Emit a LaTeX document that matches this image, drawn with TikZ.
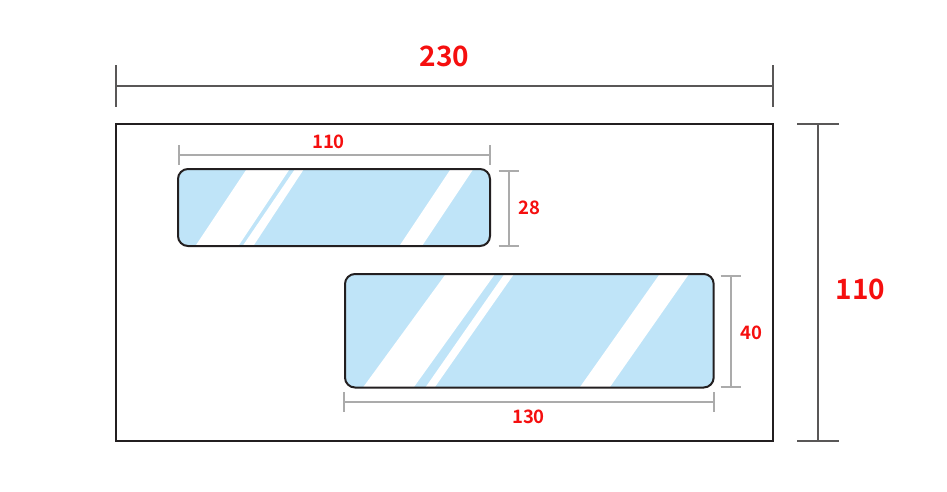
\documentclass[tikz,border=0pt]{standalone}
\usepackage{fontspec}
\setmainfont{Noto Sans CJK SC}[BoldFont={Noto Sans CJK SC Bold}]
\definecolor{glass}{HTML}{BFE4F8}
\definecolor{dimdark}{HTML}{595757}
\definecolor{dimlight}{HTML}{ABABAB}
\definecolor{edge}{HTML}{231F20}
\definecolor{lab}{HTML}{F50F0F}
\tikzset{
  bigdim/.style={draw=dimdark,line width=2pt},
  smalldim/.style={draw=dimlight,line width=2pt},
  biglabel/.style={text=lab,font=\fontsize{28}{28}\selectfont\bfseries,inner sep=0pt},
  smalllabel/.style={text=lab,font=\fontsize{18.5}{18.5}\selectfont\bfseries,inner sep=0pt},
  windowbox/.style={draw=edge,line width=2pt,rounded corners=10pt},
  stripe/.style={fill=white,draw=none}
}
\begin{document}
\begin{tikzpicture}[x=1pt,y=-1pt]
\useasboundingbox (0,0) rectangle (947,491);
% envelope
\draw[edge,line width=2pt] (115.5,124) rectangle (773,440.5);
% top dimension
\coordinate (ta) at (115.5,86); \coordinate (tb) at (773,86);
\draw[bigdim] (ta) -- (tb);
\draw[bigdim] (115.5,65) -- (ta) -- (115.5,107);
\draw[bigdim] (773,65) -- (tb) -- (773,107);
\node[biglabel] (w) at (444.5,56) {230};
% right dimension
\coordinate (ra) at (818,124); \coordinate (rb) at (818,440.5);
\draw[bigdim] (ra) -- (rb);
\draw[bigdim] (797,124) -- (839,124);
\draw[bigdim] (797,440.5) -- (839,440.5);
\node[biglabel] (h) at (860.5,289) {110};
% window 1
\fill[glass,rounded corners=10pt] (178,169) rectangle (490,246);
\fill[stripe] (246,170) -- (289,170) -- (239,245) -- (196,245) -- cycle;
\fill[stripe] (294.3,170) -- (303.3,170) -- (254,245) -- (243.3,245) -- cycle;
\fill[stripe] (450,170) -- (472.7,170) -- (422.7,245) -- (400,245) -- cycle;
\draw[windowbox] (178,169) rectangle (490,246);
% window 2
\fill[glass,rounded corners=10pt] (345,274) rectangle (713.7,387.5);
\fill[stripe] (445,275) -- (494.3,275) -- (414,387) -- (363.3,387) -- cycle;
\fill[stripe] (503.7,275) -- (513.3,275) -- (435,387) -- (425.7,387) -- cycle;
\fill[stripe] (659,275) -- (688.3,275) -- (610,387) -- (580,387) -- cycle;
\draw[windowbox] (345,274) rectangle (713.7,387.5);
% small dimensions
\coordinate (a1) at (179,155); \coordinate (a2) at (489.5,155);
\draw[smalldim] (a1) -- (a2);
\draw[smalldim] (179,145) -- (179,165);
\draw[smalldim] (489.5,145) -- (489.5,165);
\node[smalllabel] (l1) at (328.5,142) {110};
\coordinate (b1) at (509,171); \coordinate (b2) at (509,246);
\draw[smalldim] (b1) -- (b2);
\draw[smalldim] (498.5,171) -- (519,171);
\draw[smalldim] (498.5,246) -- (519,246);
\node[smalllabel] (l2) at (529,208) {28};
\coordinate (c1) at (730.5,275.5); \coordinate (c2) at (730.5,386.5);
\draw[smalldim] (c1) -- (c2);
\draw[smalldim] (720.5,275.5) -- (741,275.5);
\draw[smalldim] (720.5,386.5) -- (741,386.5);
\node[smalllabel] (l3) at (751,333) {40};
\coordinate (d1) at (344,401.7); \coordinate (d2) at (713.5,401.7);
\draw[smalldim] (d1) -- (d2);
\draw[smalldim] (344,392) -- (344,411.5);
\draw[smalldim] (713.5,392) -- (713.5,411.5);
\node[smalllabel] (l4) at (528.5,417) {130};
\end{tikzpicture}
\end{document}
